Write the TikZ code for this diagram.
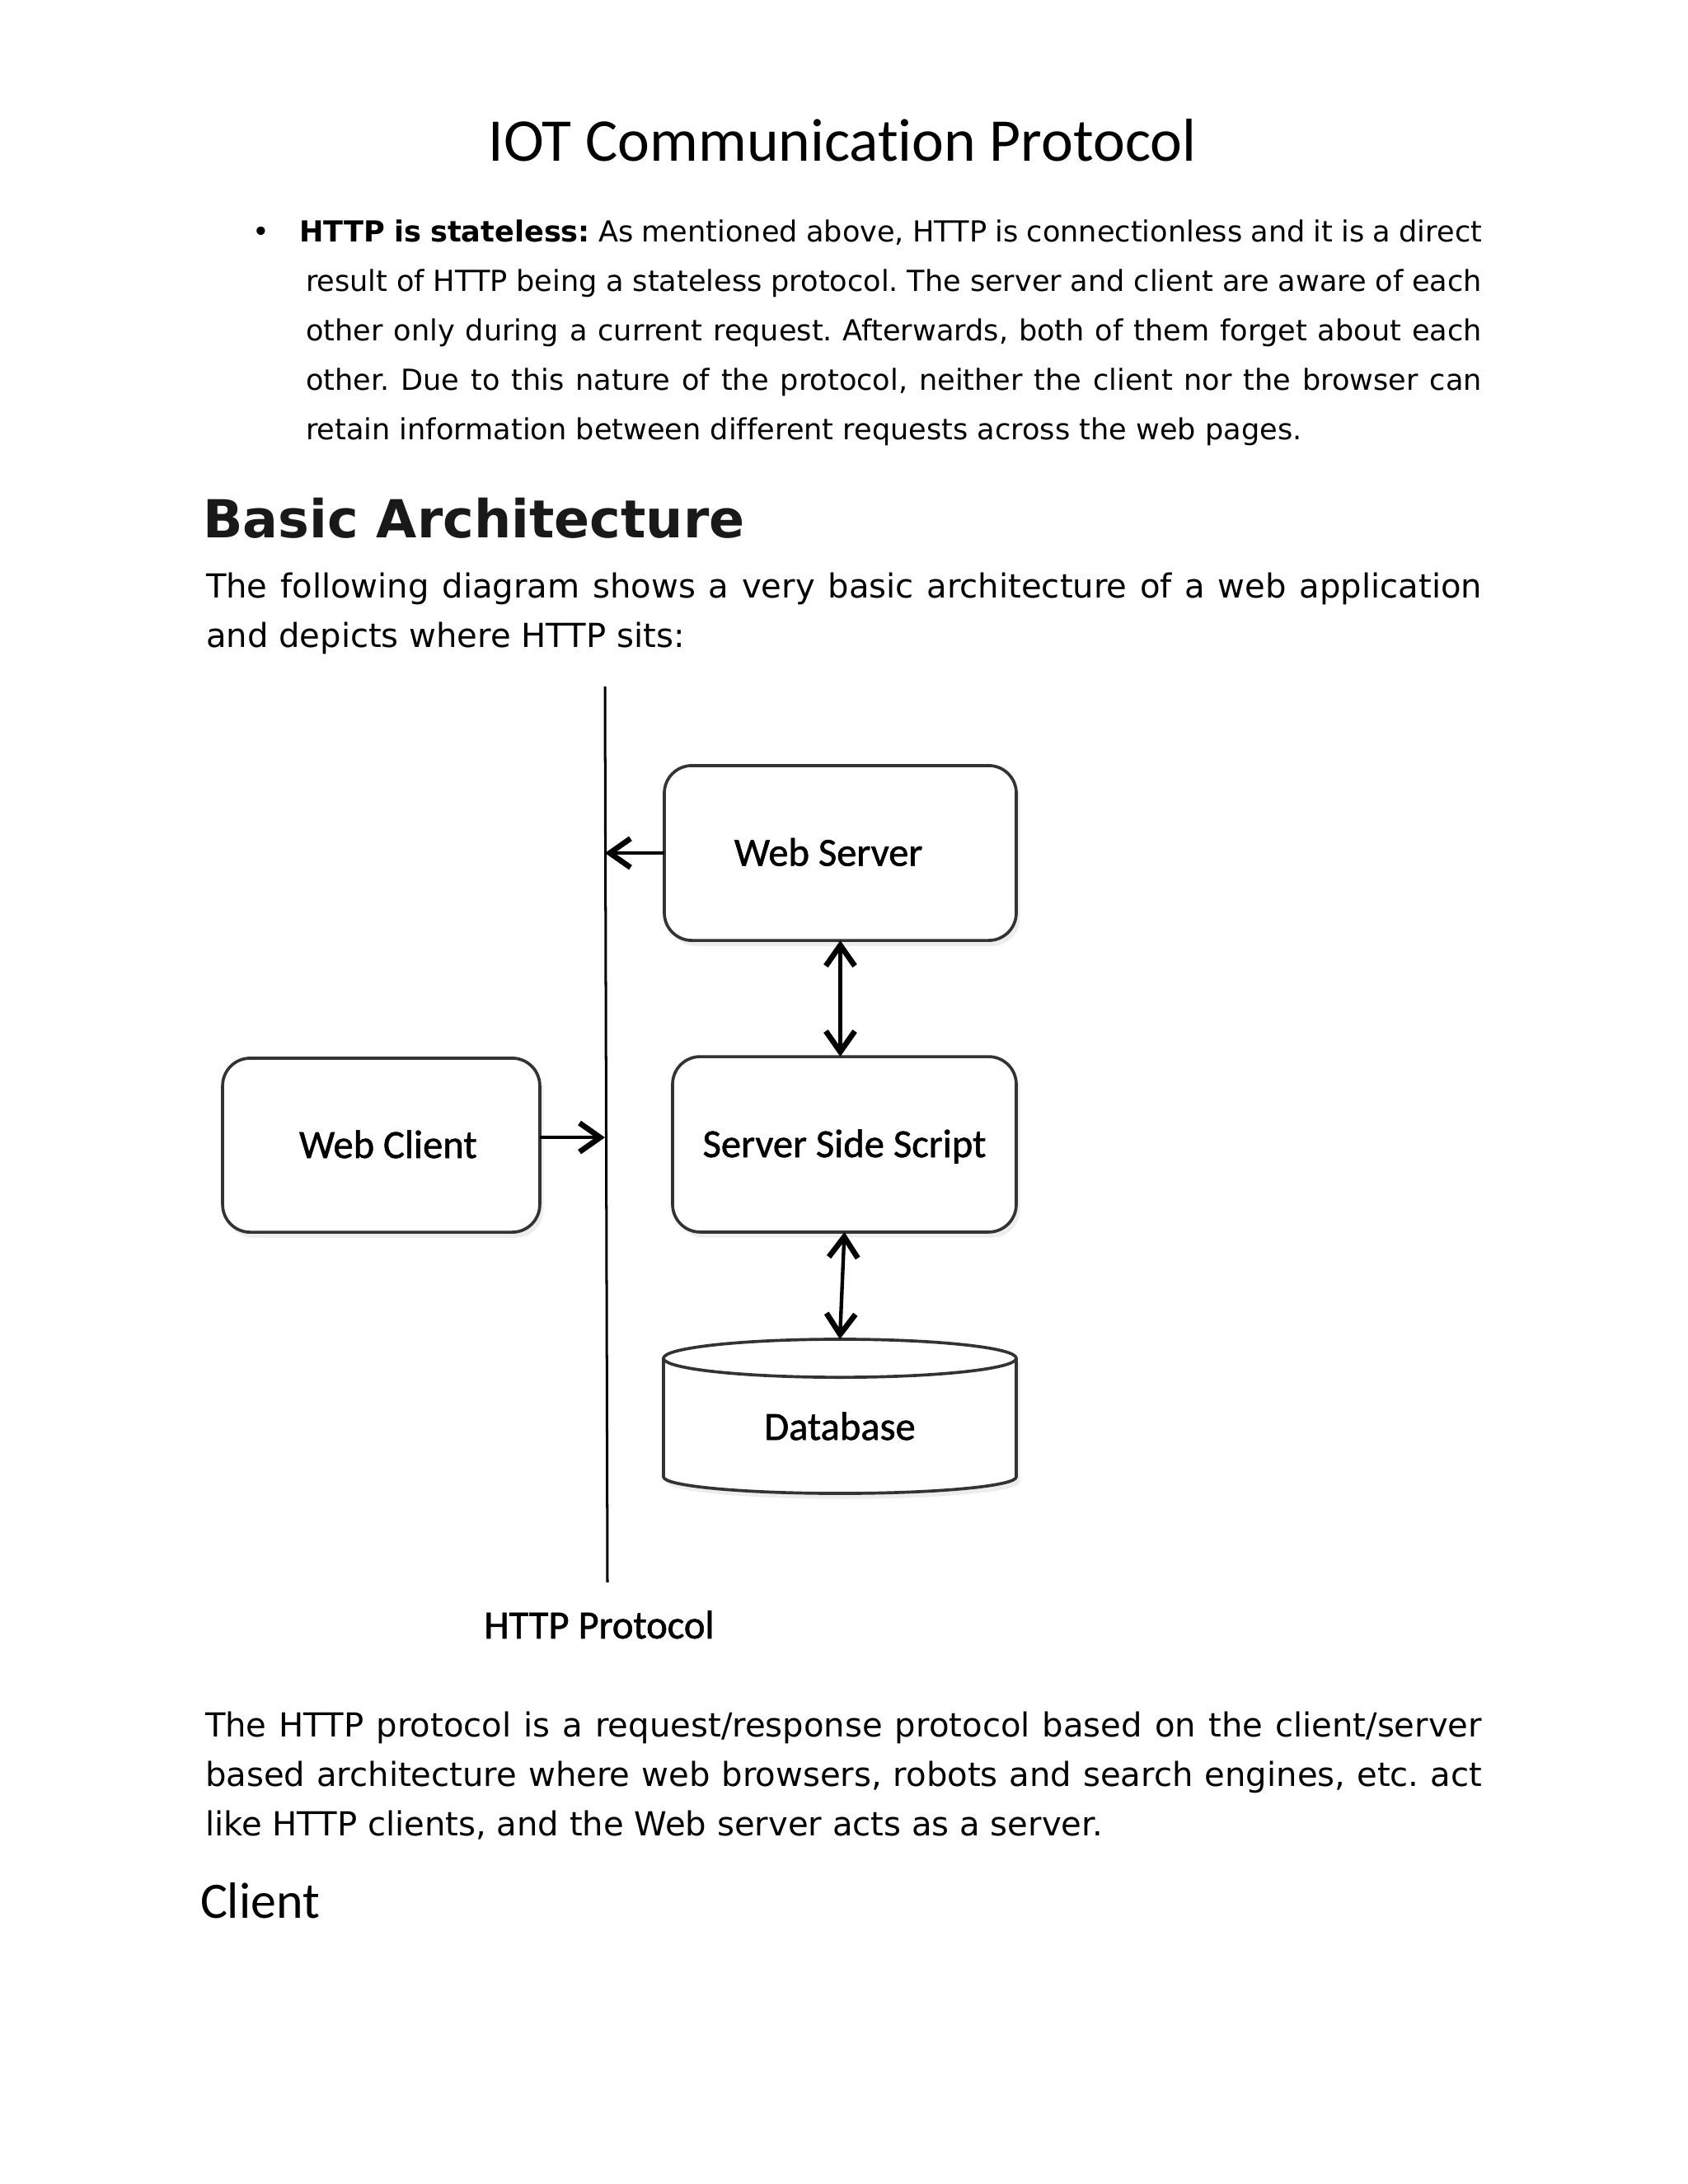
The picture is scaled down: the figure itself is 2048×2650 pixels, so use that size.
\documentclass[tikz,border=0pt]{standalone}
\usepackage{fontspec}
\setmainfont[Ligatures=CommonOff]{DejaVu Sans}
\newfontfamily\calfont[Ligatures=CommonOff]{Carlito}
\newfontfamily\lblfont[Ligatures=CommonOff,FakeBold=1.2]{Carlito}
\usetikzlibrary{arrows.meta,shadows}
\frenchspacing
\begin{document}
\begin{tikzpicture}[x=0.298828pt,y=-0.298828pt,
  every node/.style={inner sep=0pt, outer sep=0pt},
  big/.style={anchor=base west, font=\fontsize{12}{14}\selectfont},
  small/.style={anchor=base west, font=\fontsize{10.5}{12}\selectfont},
  shade/.style={drop shadow={opacity=0.14, shadow xshift=1.3pt, shadow yshift=-2pt}},
  box/.style={draw=black!80, line width=1.1pt, rounded corners=10pt, fill=white, shade},
  cyl/.style={draw=black!80, line width=1.1pt},
  lbl/.style={font=\lblfont\fontsize{14.5}{16}\selectfont, text height=9.3pt, text depth=0pt},
  barb/.tip={Straight Barb[length=7.5pt,width=10.5pt,line width=2pt]},
  conn/.style={line width=1.3pt, -barb},
  dbl/.style={line width=1.3pt, barb-barb}
]
\fill[white] (0,0) rectangle (2048,2650);
\useasboundingbox (0,0) rectangle (2048,2650);

% title
\node[font=\calfont\fontsize{22}{26}\selectfont, anchor=base] (title) at (1022,195) {IOT Communication Protocol};

% bullet paragraph
\node[small, anchor=base] (bul) at (317,293) {•};
\node[small] (p1a) at (363,293) {\makebox[428.8pt][s]{\textbf{HTTP is stateless:} As mentioned above, HTTP is connectionless and it is a direct}};
\node[small] (p1b) at (371,353) {\makebox[426.4pt][s]{result of HTTP being a stateless protocol. The server and client are aware of each}};
\node[small] (p1c) at (371,413) {\makebox[426.4pt][s]{other only during a current request. Afterwards, both of them forget about each}};
\node[small] (p1d) at (371,473) {\makebox[426.4pt][s]{other. Due to this nature of the protocol, neither the client nor the browser can}};
\node[small] (p1e) at (371,533) {retain information between different requests across the web pages.};

% heading
\node[anchor=base west, font=\bfseries\fontsize{19}{22}\selectfont, text=black!90] (head) at (246,652) {Basic Architecture};

\node[big] (p2a) at (250,725) {\makebox[462.6pt][s]{The following diagram shows a very basic architecture of a web application}};
\node[big] (p2b) at (250,785) {and depicts where HTTP sits:};

% diagram
\coordinate (ltop) at (734,833);
\coordinate (lbot) at (737,1920);
\draw[line width=0.9pt] (ltop) -- (lbot);

\node[box, minimum width=127.6pt, minimum height=63.4pt,
      label={[lbl,xshift=-4.3pt]center:Web Server}] (ws) at (1019.5,1035) {};
\node[box, minimum width=115pt, minimum height=63.1pt,
      label={[lbl,xshift=2.5pt]center:Web Client}] (wc) at (462.5,1389.5) {};
\node[box, minimum width=124.6pt, minimum height=63.6pt,
      label={[lbl]center:Server Side Script}] (sss) at (1024.5,1388.5) {};

% database cylinder
\node[minimum width=127.9pt, minimum height=55.9pt] (db) at (1019,1718.5) {};
\path[cyl, fill=white, shade] ([yshift=-6.9pt]db.north west) -- ([yshift=6pt]db.south west)
  arc[start angle=180, end angle=360, x radius=63.95pt, y radius=6pt]
  -- ([yshift=-6.9pt]db.north east)
  arc[start angle=0, end angle=180, x radius=63.95pt, y radius=6.9pt] -- cycle;
\draw[cyl] ([yshift=-6.9pt]db.north west)
  arc[start angle=180, end angle=360, x radius=63.95pt, y radius=6.9pt];
\node[lbl] (dbl) at ([yshift=-3.9pt]db.center) {Database};

% connectors
\draw[conn] (ws.west) -- (ws.west -| ltop);
\coordinate (wce) at ([yshift=2.8pt]wc.east);
\draw[conn] (wce) -- (wce -| ltop);
\draw[dbl] (ws.south) -- (ws.south |- sss.north);
\draw[dbl] (sss.south) -- (db.north);

\node[lbl, anchor=base] (proto) at (727,1988) {HTTP Protocol};

% bottom text
\node[big] (p3a) at (249,2107) {\makebox[462.9pt][s]{The HTTP protocol is a request/response protocol based on the client/server}};
\node[big] (p3b) at (249,2167) {\makebox[462.9pt][s]{based architecture where web browsers, robots and search engines, etc. act}};
\node[big] (p3c) at (249,2227) {like HTTP clients, and the Web server acts as a server.};

\node[anchor=base west, font=\calfont\fontsize{18.5}{20}\selectfont] (client) at (243,2327) {Client};
\end{tikzpicture}
\end{document}
